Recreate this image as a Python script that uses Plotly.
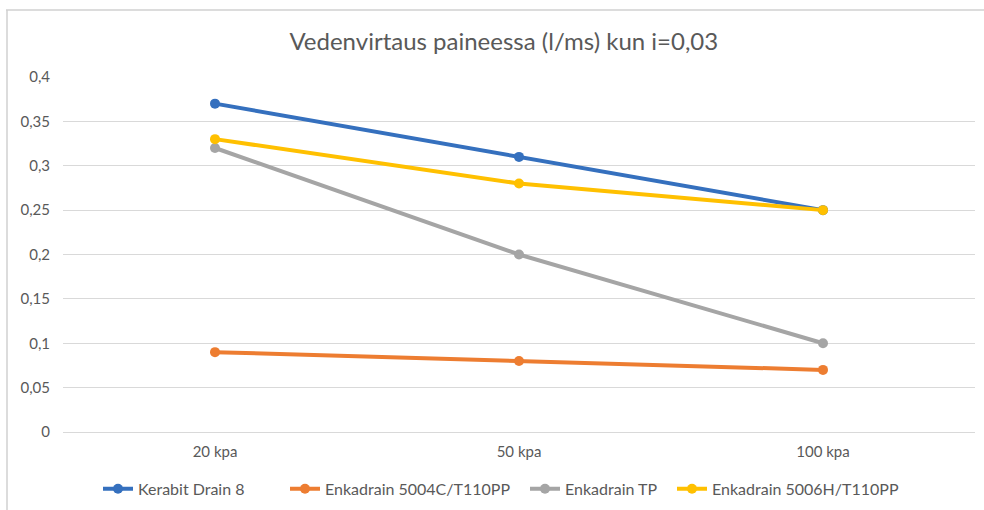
import plotly.graph_objects as go

categories = ["20 kpa", "50 kpa", "100 kpa"]
series_names = ["Kerabit Drain 8", "Enkadrain 5004C/T110PP", "Enkadrain TP", "Enkadrain 5006H/T110PP"]
kerabit = [0.37, 0.31, 0.25]
enka_5004c = [0.09, 0.08, 0.07]
enka_tp = [0.32, 0.20, 0.10]
enka_5006h = [0.33, 0.28, 0.25]
colors = ["#3570BE", "#ED7D31", "#A5A5A5", "#FFC000"]
legend_ids = ["legend", "legend2", "legend3", "legend4"]
legend_text_px = [138, 325, 565, 712]

L, R, W = 63, 9, 984
plot_w = W - L - R

fig = go.Figure()
for name, vals, col, lg in zip(series_names, [kerabit, enka_5004c, enka_tp, enka_5006h], colors, legend_ids):
    fig.add_trace(go.Scatter(
        x=categories, y=vals, name=name, mode="lines+markers",
        line=dict(color=col, width=4),
        marker=dict(color=col, size=10),
        legend=lg,
    ))

legend_layout = {}
for lg, tx in zip(legend_ids, legend_text_px):
    legend_layout[lg] = dict(orientation="h", x=(tx - 40 - L) / plot_w, xanchor="left",
                             y=-0.16, yanchor="middle",
                             font=dict(family="Lato", size=16, color="#595959"),
                             itemwidth=30, bgcolor="rgba(0,0,0,0)")

fig.update_layout(
    width=W, height=510,
    separators=", ",
    paper_bgcolor="white", plot_bgcolor="white",
    margin=dict(l=L, r=R, t=77, b=78, autoexpand=False),
    title=dict(text="Vedenvirtaus paineessa (l/ms) kun i=0,03",
               x=0.512, xanchor="center", y=0.918, yanchor="middle",
               font=dict(family="Lato", size=24, color="#595959")),
    font=dict(family="Lato", size=15, color="#595959"),
    showlegend=True,
    shapes=[
        dict(type="line", xref="paper", yref="paper", x0=-0.0625, x1=1.02, y0=1.189, y1=1.189,
             line=dict(color="#D0D0D0", width=1.5)),
        dict(type="line", xref="paper", yref="paper", x0=-0.0614, x1=-0.0614, y0=1.189, y1=-0.25,
             line=dict(color="#D0D0D0", width=1.5)),
    ],
    **legend_layout,
)
fig.update_xaxes(type="category", range=[-0.5, 2.5], showgrid=False, showline=True, linecolor="#D9D9D9",
                 ticks="", tickfont=dict(size=15, color="#595959"), ticklabelstandoff=6)
fig.update_yaxes(range=[0, 0.4], dtick=0.05, tick0=0, showgrid=True, gridcolor="#D9D9D9",
                 zeroline=False, showline=False, tickfont=dict(size=15, color="#595959"),
                 ticklabelstandoff=12)

fig.write_html("out.html", config={"displayModeBar": False},
               post_script="document.body.style.margin='0';")
